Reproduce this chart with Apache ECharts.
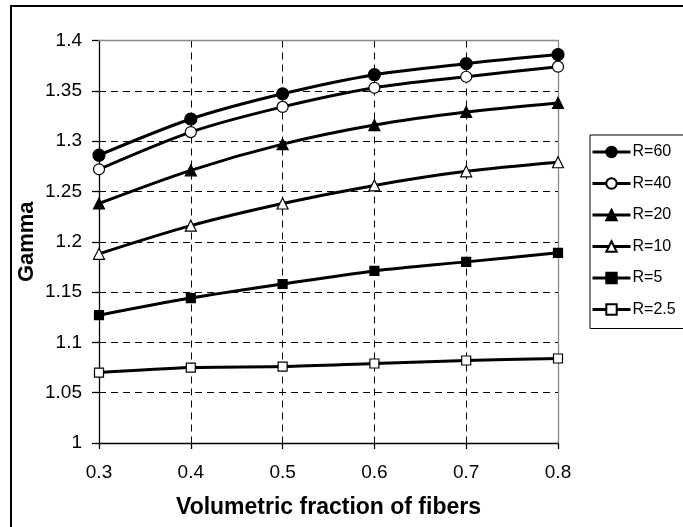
<!DOCTYPE html>
<html>
<head>
<meta charset="utf-8">
<script src="https://cdn.jsdelivr.net/npm/echarts@6/dist/echarts.min.js"></script>
<style>
html,body{margin:0;padding:0;background:#fff;}
#chart{width:683px;height:527px;}
</style>
</head>
<body>
<div id="chart"></div>
<script>
const xValues = [0.3, 0.4, 0.5, 0.6, 0.7, 0.8];
const seriesNames = ['R=60', 'R=40', 'R=20', 'R=10', 'R=5', 'R=2.5'];
const r60  = [1.286, 1.322, 1.347, 1.366, 1.377, 1.386];
const r40  = [1.272, 1.309, 1.334, 1.353, 1.364, 1.374];
const r20  = [1.238, 1.271, 1.297, 1.316, 1.329, 1.338];
const r10  = [1.188, 1.216, 1.238, 1.256, 1.270, 1.279];
const r5   = [1.127, 1.144, 1.158, 1.171, 1.180, 1.189];
const r2_5 = [1.070, 1.075, 1.076, 1.079, 1.082, 1.084];
const yTicks = { min: 1, max: 1.4, interval: 0.05 };
const xTicks = { min: 0.3, max: 0.8, interval: 0.1 };

const allValues = [r60, r40, r20, r10, r5, r2_5];
const markerStyles = [
  { symbol: 'circle', size: 12, fill: '#000' },
  { symbol: 'circle', size: 11, fill: '#fff' },
  { symbol: 'triangle', size: 11, fill: '#000' },
  { symbol: 'triangle', size: 11, fill: '#fff' },
  { symbol: 'rect', size: 9, fill: '#000' },
  { symbol: 'rect', size: 9, fill: '#fff' }
];

const FONT = 'Liberation Sans, Arial, sans-serif';

const series = seriesNames.map((name, i) => ({
  name: name,
  type: 'line',
  smooth: 0.3,
  data: xValues.map((x, j) => [x, allValues[i][j]]),
  symbol: markerStyles[i].symbol,
  symbolSize: markerStyles[i].size,
  showAllSymbol: true,
  lineStyle: { color: '#000', width: 3 },
  itemStyle: { color: markerStyles[i].fill, borderColor: '#000', borderWidth: 1.2 },
  z: 5,
  emphasis: { disabled: true }
}));

const chart = echarts.init(document.getElementById('chart'), null, { renderer: 'canvas' });
chart.setOption({
  animation: false,
  backgroundColor: '#fff',
  grid: { left: 99, right: 125, top: 40.5, bottom: 84, containLabel: false },
  xAxis: [{
    type: 'value',
    min: xTicks.min, max: xTicks.max, interval: xTicks.interval,
    name: 'Volumetric fraction of fibers',
    nameLocation: 'middle', nameGap: 53, nameMoveOverlap: false,
    nameTextStyle: { fontFamily: FONT, fontSize: 23, fontWeight: 'bold', color: '#000' },
    axisLine: { show: true, onZero: false, lineStyle: { color: '#000', width: 1.3 } },
    axisTick: { show: true, length: 6, lineStyle: { color: '#000', width: 1.3 } },
    axisLabel: { fontFamily: FONT, fontSize: 19, color: '#000', margin: 20,
      formatter: v => String(+v.toFixed(1)) },
    splitLine: { show: true, lineStyle: { color: '#000', type: [7, 5], width: 1 } }
  }, {
    type: 'value', position: 'top',
    min: xTicks.min, max: xTicks.max,
    axisLine: { show: true, lineStyle: { color: '#888', width: 1.3 } },
    axisTick: { show: false }, axisLabel: { show: false }, splitLine: { show: false },
    z: 3
  }],
  yAxis: [{
    type: 'value',
    min: yTicks.min, max: yTicks.max, interval: yTicks.interval,
    name: 'Gamma',
    nameLocation: 'middle', nameGap: 61, nameMoveOverlap: false,
    nameTextStyle: { fontFamily: FONT, fontSize: 22, fontWeight: 'bold', color: '#000' },
    axisLine: { show: true, onZero: false, lineStyle: { color: '#000', width: 1.3 } },
    axisTick: { show: true, length: 7, lineStyle: { color: '#000', width: 1.3 } },
    axisLabel: { fontFamily: FONT, fontSize: 19, color: '#000', margin: 17,
      formatter: v => String(+v.toFixed(2)) },
    splitLine: { show: true, lineStyle: { color: '#000', type: [7, 5], width: 1 } }
  }, {
    type: 'value', position: 'right',
    min: yTicks.min, max: yTicks.max,
    axisLine: { show: true, lineStyle: { color: '#888', width: 1.3 } },
    axisTick: { show: false }, axisLabel: { show: false }, splitLine: { show: false },
    z: 3
  }],
  legend: {
    orient: 'vertical',
    left: 590, top: 135,
    data: seriesNames,
    itemWidth: 38, itemHeight: 13,
    itemGap: 15.5,
    padding: [9, 20, 11, 1],
    borderColor: '#000', borderWidth: 1,
    lineStyle: { width: 3, color: '#000' },
    textStyle: { fontFamily: FONT, fontSize: 16, color: '#000', padding: [0, 0, 0, -3] },
    selectedMode: false
  },
  graphic: [{
    type: 'rect',
    shape: { x: 11, y: 6, width: 720, height: 560 },
    style: { fill: 'none', stroke: '#000', lineWidth: 2 },
    silent: true
  }],
  series: series
});
</script>
</body>
</html>
